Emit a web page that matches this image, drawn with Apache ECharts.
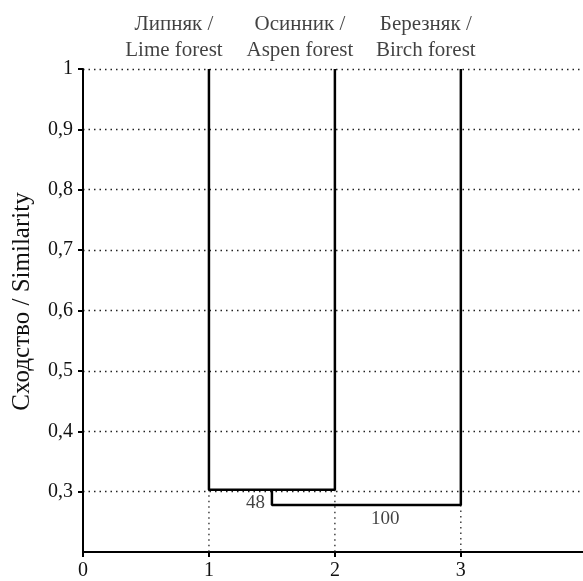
<!DOCTYPE html>
<html>
<head>
<meta charset="utf-8">
<script src="https://cdn.jsdelivr.net/npm/echarts@6/dist/echarts.min.js"></script>
<style>
  html, body { margin: 0; padding: 0; background: #fff; }
  #chart { width: 583px; height: 581px; }
</style>
</head>
<body>
<div id="chart"></div>
<script>
// leaves of the dendrogram
var leafNames = ['Липняк /\nLime forest', 'Осинник /\nAspen forest', 'Березняк /\nBirch forest'];
var leafX = [1, 2, 3];
// merge heights (similarity) and bootstrap support
var mergeLevels = [0.303, 0.278];
var supportValues = ['48', '100'];
var supportPos = [[1.37, 0.281], [2.4, 0.255]];
var yTicks = [0.3, 0.4, 0.5, 0.6, 0.7, 0.8, 0.9, 1];
var xTicks = [0, 1, 2, 3];

var serif = "'Liberation Serif', 'Times New Roman', serif";
var ink = '#111';
var chart = echarts.init(document.getElementById('chart'));

// tree branches
var mid = (leafX[0] + leafX[1]) / 2;
var branch1 = [[leafX[0], 1], [leafX[0], mergeLevels[0]], [leafX[1], mergeLevels[0]], [leafX[1], 1]];
var branch2 = [[mid, mergeLevels[0]], [mid, mergeLevels[1]], [leafX[2], mergeLevels[1]], [leafX[2], 1]];

// dotted drops from leaves to the axis
var drops = [];
for (var i = 0; i < leafX.length; i++) {
    var lv = i < 2 ? mergeLevels[0] : mergeLevels[1];
    drops.push([[leafX[i], lv], [leafX[i], 0.2]]);
}

var series = [];
drops.forEach(function (d) {
    series.push({
        type: 'line', data: d, symbol: 'none', silent: true,
        lineStyle: { color: '#222', width: 1.3, type: [1.5, 4] }
    });
});
series.push({
    type: 'line', data: branch1, symbol: 'none', z: 5,
    lineStyle: { color: '#000', width: 2.5 }
});
series.push({
    type: 'line', data: branch2, symbol: 'none', z: 5,
    lineStyle: { color: '#000', width: 2.5 }
});
series.push({
    type: 'scatter', symbolSize: 0,
    data: leafX.map(function (x, i) { return [x, 1, leafNames[i]]; }),
    label: {
        show: true, position: 'top', offset: [-35, -1],
        formatter: function (p) { return p.data[2]; },
        fontFamily: serif, fontSize: 21, lineHeight: 26, color: ink, align: 'center'
    }
});
series.push({
    type: 'scatter', symbolSize: 0,
    data: supportPos.map(function (p, i) { return [p[0], p[1], supportValues[i]]; }),
    label: {
        show: true, position: 'inside',
        formatter: function (p) { return p.data[2]; },
        fontFamily: serif, fontSize: 19, color: ink
    }
});

chart.setOption({
    animation: false,
    backgroundColor: '#fff',
    grid: { left: 83, right: 0, top: 69, bottom: 28 },
    xAxis: {
        type: 'value', min: 0, max: 3.97,
        axisLine: { lineStyle: { color: '#000', width: 2 } },
        axisTick: { show: true, length: 5, lineStyle: { color: '#000', width: 2 }, customValues: xTicks },
        axisLabel: { fontFamily: serif, fontSize: 20, color: ink, margin: 9, customValues: xTicks },
        splitLine: { show: false }
    },
    yAxis: {
        type: 'value', min: 0.2, max: 1, interval: 0.1,
        name: 'Сходство / Similarity', nameLocation: 'middle', nameGap: 48,
        nameTextStyle: { fontFamily: serif, fontSize: 25, color: ink, padding: [0, 0, 0, 18] },
        axisLine: { show: true, lineStyle: { color: '#000', width: 2 } },
        axisTick: { show: true, length: 5, lineStyle: { color: '#000', width: 2 }, customValues: yTicks },
        axisLabel: {
            fontFamily: serif, fontSize: 20, color: ink, margin: 10, customValues: yTicks,
            formatter: function (v) { return v === 1 ? '1' : v.toFixed(1).replace('.', ','); }
        },
        splitLine: { show: true, lineStyle: { color: '#222', width: 1.3, type: [1.5, 4] } }
    },
    series: series
});
</script>
</body>
</html>
